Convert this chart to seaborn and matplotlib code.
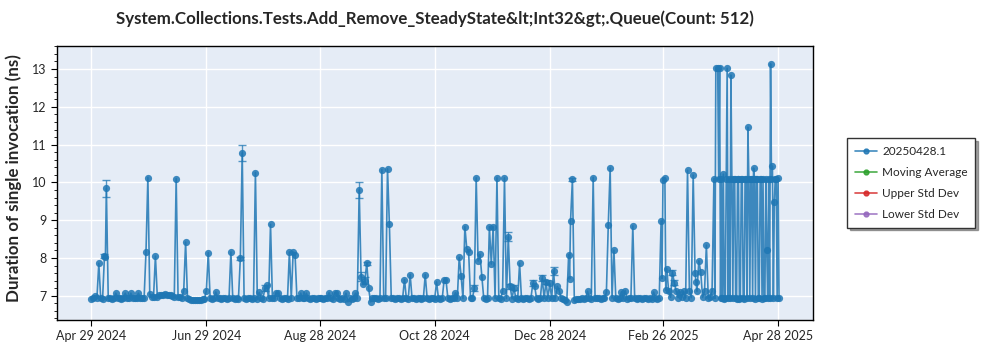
import numpy as np
import pandas as pd
import matplotlib
matplotlib.use("Agg")
import matplotlib.pyplot as plt
import matplotlib.dates as mdates
from matplotlib.lines import Line2D
from matplotlib.ticker import MultipleLocator
import seaborn as sns

# ---------------- data ----------------
title_text = "System.Collections.Tests.Add_Remove_SteadyState&lt;Int32&gt;.Queue(Count: 512)"
y_label = "Duration of single invocation (ns)"
series_name = "20250428.1"
legend_labels = ["20250428.1", "Moving Average", "Upper Std Dev", "Lower Std Dev"]
start_date = "2024-04-29"
x_tick_labels = ["Apr 29 2024", "Jun 29 2024", "Aug 28 2024", "Oct 28 2024",
                 "Dec 28 2024", "Feb 26 2025", "Apr 28 2025"]

# one run per day, day 0 = Apr 29 2024
daily_durations = [
    6.92, 6.93, 7.00, 6.94, 7.86, 6.93, 6.92, 8.06, 9.84, 6.93,
    6.94, 6.92, 6.93, 7.07, 6.94, 6.93, 6.92, 6.94, 7.07, 6.93,
    6.94, 7.07, 6.93, 6.95, 6.94, 7.07, 6.94, 6.95, 6.94, 8.16,
    10.13, 7.05, 6.96, 6.97, 8.05, 6.98, 7.01, 7.03, 7.02, 7.04,
    7.01, 7.03, 7.02, 6.99, 6.97, 10.10, 6.97, 6.96, 6.95, 7.14,
    8.42, 6.94, 6.92, 6.90, 6.89, 6.88, 6.88, 6.89, 6.90, 6.91,
    6.92, 7.14, 8.14, 6.93, 6.92, 6.93, 7.10, 6.94, 6.93, 6.92,
    6.93, 6.94, 6.92, 6.93, 8.16, 6.93, 6.92, 6.93, 6.92, 7.99,
    10.78, 6.93, 6.92, 6.93, 6.94, 6.92, 6.93, 10.26, 6.92, 7.09,
    6.93, 6.92, 7.20, 7.28, 6.93, 8.89, 6.94, 6.93, 7.07, 7.07,
    6.93, 6.92, 6.94, 6.93, 6.92, 8.16, 6.93, 8.16, 8.09, 6.94,
    6.93, 7.07, 6.94, 6.93, 7.07, 6.93, 6.92, 6.94, 6.93, 6.92,
    6.93, 6.94, 6.93, 6.92, 6.93, 6.94, 7.08, 6.93, 6.92, 7.08,
    7.08, 6.93, 6.92, 6.93, 6.92, 7.07, 6.84, 6.93, 6.92, 6.94,
    7.07, 6.93, 9.80, 7.50, 7.30, 7.40, 7.86, 7.20, 6.84, 6.93,
    6.94, 6.93, 6.92, 6.94, 10.34, 6.93, 6.94, 10.36, 8.89, 6.93,
    6.94, 6.92, 6.93, 6.94, 6.92, 6.93, 7.43, 6.93, 6.92, 7.56,
    6.93, 6.94, 6.92, 6.93, 6.94, 6.92, 6.93, 7.56, 6.93, 6.92,
    6.93, 6.94, 6.92, 7.37, 6.93, 6.92, 6.93, 7.42, 7.42, 6.93,
    6.92, 6.93, 6.94, 7.08, 6.93, 8.02, 7.53, 6.93, 8.83, 8.25,
    8.16, 6.93, 6.94, 7.20, 10.12, 7.92, 8.10, 7.50, 6.93, 6.92,
    6.93, 8.83, 7.84, 8.83, 6.93, 10.12, 6.93, 6.92, 7.12, 10.12,
    6.93, 8.56, 7.25, 6.92, 7.22, 6.93, 6.92, 7.86, 6.93, 6.92,
    6.93, 6.94, 6.92, 6.93, 7.33, 7.25, 6.93, 6.92, 6.94, 7.47,
    6.93, 7.37, 6.94, 7.33, 6.93, 7.66, 6.95, 7.25, 7.14, 6.93,
    6.92, 6.90, 6.83, 8.09, 8.98, 10.08, 6.90, 6.91, 6.92, 6.92,
    6.93, 6.92, 6.93, 7.12, 6.93, 6.92, 10.13, 6.93, 6.94, 6.93,
    6.92, 6.94, 6.93, 7.09, 8.87, 10.38, 6.94, 8.21, 6.93, 6.92,
    6.94, 7.11, 6.93, 7.14, 6.92, 6.93, 6.94, 8.85, 6.93, 6.92,
    6.93, 6.94, 6.92, 6.93, 6.94, 6.92, 6.93, 6.92, 7.10, 6.93,
    6.92, 6.93, 8.98, 10.06, 10.13, 7.72, 7.12, 6.96, 7.61, 7.35,
    7.12, 6.95, 7.11, 6.96, 7.12, 6.95, 10.32, 7.12, 6.95, 10.19,
    7.60, 7.12, 7.93, 7.62, 6.96, 7.12, 8.34, 6.95, 6.96, 7.12,
    10.10, 13.02, 13.02, 13.02, 10.10, 10.22, 6.93, 13.02, 10.10, 12.84,
    6.93, 10.10, 6.92, 10.10, 6.93, 10.10, 6.92, 10.10, 11.46, 6.93,
    10.10, 10.38, 6.92, 10.10, 6.93, 10.10, 10.10, 6.93, 8.21, 10.10,
    13.14, 10.43, 9.47, 10.10, 10.12,
]

# second runs on the same day (day offset, duration)
extra_days = [7.5, 253.5, 302.5, 304.5, 320.5,
              330.5, 332.5, 333.5, 334.5, 335.5, 336.5, 337.5, 338.5, 339.5, 340.5,
              341.5, 342.5, 343.5, 344.5, 345.5, 346.5, 347.5, 348.5, 349.5, 350.5,
              351.5, 352.5, 353.5, 354.5, 355.5, 356.5, 357.5, 358.5, 359.5, 360.5,
              361.5, 362.5, 363.5, 364.5]
extra_durations = [8.03, 7.45, 7.46, 7.15, 7.37,
                   6.93, 10.10, 6.93, 6.93, 6.92, 10.10, 6.93, 6.93, 10.10, 10.10,
                   6.93, 10.10, 6.92, 10.10, 6.93, 10.10, 6.93, 10.10, 10.10, 6.93,
                   10.10, 10.10, 6.93, 10.10, 6.92, 6.93, 10.10, 6.93, 6.93, 10.10,
                   6.93, 10.10, 6.93, 6.93]

# runs with visible error bars (day offset, half-width)
err_days = [7, 8, 79, 80, 92, 142, 143, 145, 146, 203, 221, 222, 224,
            234, 239, 241, 245, 255, 308, 309]
err_sizes = [0.05, 0.22, 0.05, 0.20, 0.08, 0.22, 0.12, 0.10, 0.04, 0.08, 0.12,
             0.06, 0.07, 0.08, 0.07, 0.06, 0.10, 0.03, 0.06, 0.06]

# ---------------- build frame ----------------
t0 = pd.Timestamp(start_date)
days_all = list(range(len(daily_durations))) + extra_days
vals_all = list(daily_durations) + extra_durations
df = pd.DataFrame({"day": days_all, "duration": vals_all}).sort_values("day")
df["date"] = t0 + pd.to_timedelta(df["day"], unit="D")

err_dates = [t0 + pd.Timedelta(days=d) for d in err_days]
err_vals = [daily_durations[d] for d in err_days]

# ---------------- style ----------------
sns.set_style("darkgrid", {
    "axes.facecolor": "#E5ECF6",
    "grid.color": "white",
    "axes.edgecolor": "black",
    "xtick.bottom": True,
    "ytick.left": True,
})
plt.rcParams["font.family"] = ["Lato", "DejaVu Sans"]

blue = "#1f77b4"
fig = plt.figure(figsize=(10, 3.5), dpi=100)
fig.patch.set_facecolor("white")
ax = fig.add_axes([0.0573, 0.0857, 0.7557, 0.7829])

sns.lineplot(data=df, x="date", y="duration", ax=ax, color=blue, linewidth=1.2,
             alpha=0.85, marker="o", markersize=5.2, markeredgewidth=0,
             estimator=None, sort=True, legend=False)
ax.errorbar(err_dates, err_vals, yerr=err_sizes, fmt="none", ecolor=blue,
            elinewidth=1, capsize=3, alpha=0.75)

ax.set_xlim(t0 - pd.Timedelta(days=18), t0 + pd.Timedelta(days=382.5))
ax.set_ylim(6.36, 13.61)
tick_dates = [pd.Timestamp(pd.to_datetime(s, format="%b %d %Y")) for s in x_tick_labels]
ax.set_xticks(tick_dates)
ax.set_xticklabels(x_tick_labels, fontsize=9)
ax.yaxis.set_major_locator(MultipleLocator(1))
ax.yaxis.set_minor_locator(MultipleLocator(0.2))
ax.tick_params(axis="y", which="major", labelsize=9, length=4, width=0.8, color="black", direction="out")
ax.tick_params(axis="y", which="minor", length=2, width=0.6, color="black", direction="out", left=True)
ax.tick_params(axis="x", which="major", length=4, width=0.8, color="black", direction="out")
ax.grid(True, which="major", color="white", linewidth=1)
ax.grid(False, which="minor")
for s in ax.spines.values():
    s.set_visible(True)
    s.set_color("black")
    s.set_linewidth(1)
ax.set_xlabel("")
ax.set_ylabel("")

fig.text(0.435, 0.947, title_text, ha="center", va="center", fontsize=12.2, fontweight="bold")
fig.text(0.014, 0.49, y_label, ha="center", va="center", rotation=90, fontsize=12.2, fontweight="bold")

legend_colors = [blue, "#2ca02c", "#d62728", "#9467bd"]
handles = [Line2D([0], [0], color=c, lw=1.2, alpha=0.85, marker="o", markersize=3.5) for c in legend_colors]
leg = fig.legend(handles, legend_labels, loc="upper left", bbox_to_anchor=(0.845, 0.612),
                 fontsize=8.5, frameon=True, fancybox=False, shadow=True,
                 handlelength=1.9, labelspacing=0.85, borderpad=0.65, handletextpad=0.4,
                 borderaxespad=0.2)
leg.get_frame().set_edgecolor("#333333")
leg.get_frame().set_facecolor("white")
leg.get_frame().set_linewidth(1)

fig.savefig("out.png", dpi=100)
